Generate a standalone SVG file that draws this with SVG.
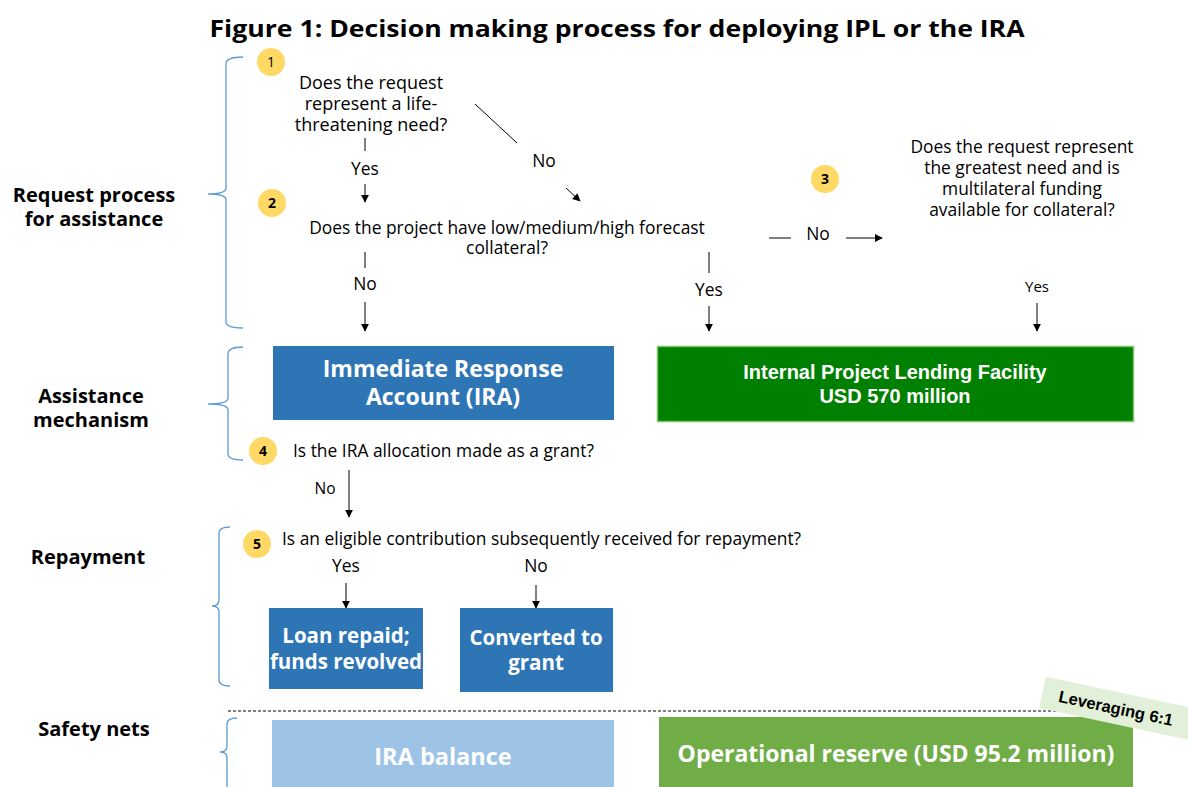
<svg xmlns="http://www.w3.org/2000/svg" width="1188" height="787" viewBox="0 0 1188 787">
<defs>
<marker id="ah" viewBox="0 0 10 10" refX="9" refY="5" markerWidth="8" markerHeight="8" markerUnits="userSpaceOnUse" orient="auto"><path d="M0,0 L10,5 L0,10 z" fill="#000"/></marker>
<style>
.t{font-family:"Open Sans","Liberation Sans",sans-serif;font-size:17.4px;fill:#000;text-anchor:middle}
.tl{font-family:"Open Sans","Liberation Sans",sans-serif;font-size:17.4px;fill:#000}
.lab{font-family:"Open Sans","Liberation Sans",sans-serif;font-size:20px;font-weight:bold;fill:#000;text-anchor:middle}
.bx{font-family:"Open Sans","Liberation Sans",sans-serif;font-weight:bold;fill:#fff;text-anchor:middle}
.num{font-family:"Open Sans","Liberation Sans",sans-serif;font-size:14px;font-weight:bold;fill:#000;text-anchor:middle}
.circ{fill:#FFD966}
.brace{fill:none;stroke:#5B9BD5;stroke-width:1.3}
.ln{stroke:#000;stroke-width:1;fill:none}
.ar{stroke:#000;stroke-width:1;fill:none;marker-end:url(#ah)}
</style>
</defs>
<rect width="1188" height="787" fill="#fff"/>
<text x="617" y="37" style="font-family:'Open Sans','Liberation Sans',sans-serif;font-size:24px;font-weight:bold;text-anchor:middle" textLength="815" lengthAdjust="spacingAndGlyphs">Figure 1: Decision making process for deploying IPL or the IRA</text>

<g id="braces">
<path class="brace" d="M243,57 Q226,57 226,64 L226,188 Q226,194 208,194 Q226,194 226,200 L226,322 Q226,328 243,328"/>
<path class="brace" d="M243,347 Q228,347 228,354 L228,398 Q228,404 208,404 Q228,404 228,410 L228,454 Q228,460 243,460"/>
<path class="brace" d="M230,527 Q219,527 219,533 L219,600 Q219,606 212,606 Q219,606 219,612 L219,680 Q219,686 230,686"/>
<path class="brace" d="M237,718 Q227,718 227,724 L227,746 Q227,752 220,752 Q227,752 227,758 L227,787"/>
</g>

<g id="section-labels">
<text class="lab" x="94" y="202">Request process</text>
<text class="lab" x="94" y="226">for assistance</text>
<text class="lab" x="91" y="403">Assistance</text>
<text class="lab" x="91" y="427">mechanism</text>
<text class="lab" x="88" y="564">Repayment</text>
<text class="lab" x="94" y="736">Safety nets</text>
</g>

<g id="q1">
<circle class="circ" cx="271" cy="62" r="14"/>
<text class="num" x="271" y="67" style="font-weight:normal">1</text>
<text class="t" x="371" y="89" style="font-size:18px">Does the request</text>
<text class="t" x="371" y="110" style="font-size:18px">represent a life-</text>
<text class="t" x="371" y="131" style="font-size:18px">threatening need?</text>
</g>

<g id="q2">
<circle class="circ" cx="272" cy="203" r="14"/>
<text class="num" x="272" y="208">2</text>
<text class="t" x="507" y="234">Does the project have low/medium/high forecast</text>
<text class="t" x="507" y="254">collateral?</text>
</g>

<g id="q3">
<circle class="circ" cx="825" cy="179" r="14"/>
<text class="num" x="825" y="184">3</text>
<text class="t" x="1022" y="153">Does the request represent</text>
<text class="t" x="1022" y="174">the greatest need and is</text>
<text class="t" x="1022" y="195">multilateral funding</text>
<text class="t" x="1022" y="216">available for collateral?</text>
</g>

<g id="ira">
<rect x="273" y="346" width="341" height="74" fill="#2E75B6"/>
<text class="bx" x="443" y="377" font-size="23">Immediate Response</text>
<text class="bx" x="443" y="405" font-size="23">Account (IRA)</text>
</g>

<g id="ipl">
<rect x="657.5" y="346.5" width="476" height="75" fill="#008000" stroke="#7FBF6A" stroke-width="1.5"/>
<text x="895" y="379" style="font-family:'Liberation Sans',Arial,sans-serif;font-size:20px;font-weight:bold;fill:#fff;text-anchor:middle">Internal Project Lending Facility</text>
<text x="895" y="403" style="font-family:'Liberation Sans',Arial,sans-serif;font-size:20px;font-weight:bold;fill:#fff;text-anchor:middle">USD 570 million</text>
</g>

<g id="q4">
<circle class="circ" cx="263" cy="451" r="14"/>
<text class="num" x="263" y="456">4</text>
<text class="tl" x="293" y="457">Is the IRA allocation made as a grant?</text>
</g>

<g id="q5">
<circle class="circ" cx="257" cy="544" r="14"/>
<text class="num" x="257" y="549">5</text>
<text class="tl" x="282" y="545">Is an eligible contribution subsequently received for repayment?</text>
</g>

<g id="loan">
<rect x="269" y="608" width="154" height="81" fill="#2E75B6"/>
<text class="bx" x="346" y="643" font-size="20.5">Loan repaid;</text>
<text class="bx" x="346" y="669" font-size="20.5">funds revolved</text>
</g>

<g id="grant">
<rect x="460" y="608" width="153" height="84" fill="#2E75B6"/>
<text class="bx" x="536" y="645" font-size="20.5">Converted to</text>
<text class="bx" x="536" y="670" font-size="20.5">grant</text>
</g>

<g id="ira-balance">
<rect x="272" y="720" width="342" height="67" fill="#9DC3E6"/>
<text class="bx" x="443" y="765" font-size="23.5">IRA balance</text>
</g>

<g id="op-reserve">
<rect x="659" y="717" width="474" height="70" fill="#70AD47"/>
<text class="bx" x="896" y="762" font-size="23">Operational reserve (USD 95.2 million)</text>
</g>

<g id="connectors">
<line class="ln" x1="365" y1="138" x2="365" y2="151"/>
<text class="t" x="365" y="175">Yes</text>
<line class="ar" x1="365" y1="184" x2="365" y2="202"/>
<line class="ln" x1="475" y1="104" x2="517" y2="143"/>
<text class="t" x="544" y="167">No</text>
<line class="ar" x1="566" y1="188" x2="580" y2="201"/>

<line class="ln" x1="365" y1="252" x2="365" y2="268"/>
<text class="t" x="365" y="290">No</text>
<line class="ar" x1="365" y1="302" x2="365" y2="331"/>
<line class="ln" x1="709" y1="252" x2="709" y2="273"/>
<text class="t" x="709" y="296">Yes</text>
<line class="ar" x1="709" y1="306" x2="709" y2="331"/>
<line class="ln" x1="769" y1="238" x2="791" y2="238"/>
<text class="t" x="818" y="240">No</text>
<line class="ar" x1="846" y1="238" x2="882" y2="238"/>
<text class="t" x="1037" y="292" style="font-size:15px">Yes</text>
<line class="ar" x1="1037" y1="303" x2="1037" y2="331"/>

<text class="t" x="325" y="494" style="font-size:15.5px">No</text>
<line class="ar" x1="349" y1="470" x2="349" y2="517"/>
<text class="t" x="346" y="572">Yes</text>
<line class="ar" x1="346" y1="583" x2="346" y2="608"/>
<text class="t" x="536" y="572">No</text>
<line class="ar" x1="536" y1="585" x2="536" y2="608"/>

<line x1="228" y1="711" x2="1100" y2="711" stroke="#000" stroke-width="1.2" stroke-dasharray="3,2"/>
</g>

<g id="leveraging" transform="translate(1116,708) rotate(12)">
<rect x="-75" y="-16" width="180" height="32" fill="#E2F0D9"/>
<text x="0" y="6" style="font-family:'Liberation Sans',Arial,sans-serif;font-size:16.5px;font-weight:bold;fill:#000;text-anchor:middle">Leveraging 6:1</text>
</g>
</svg>
